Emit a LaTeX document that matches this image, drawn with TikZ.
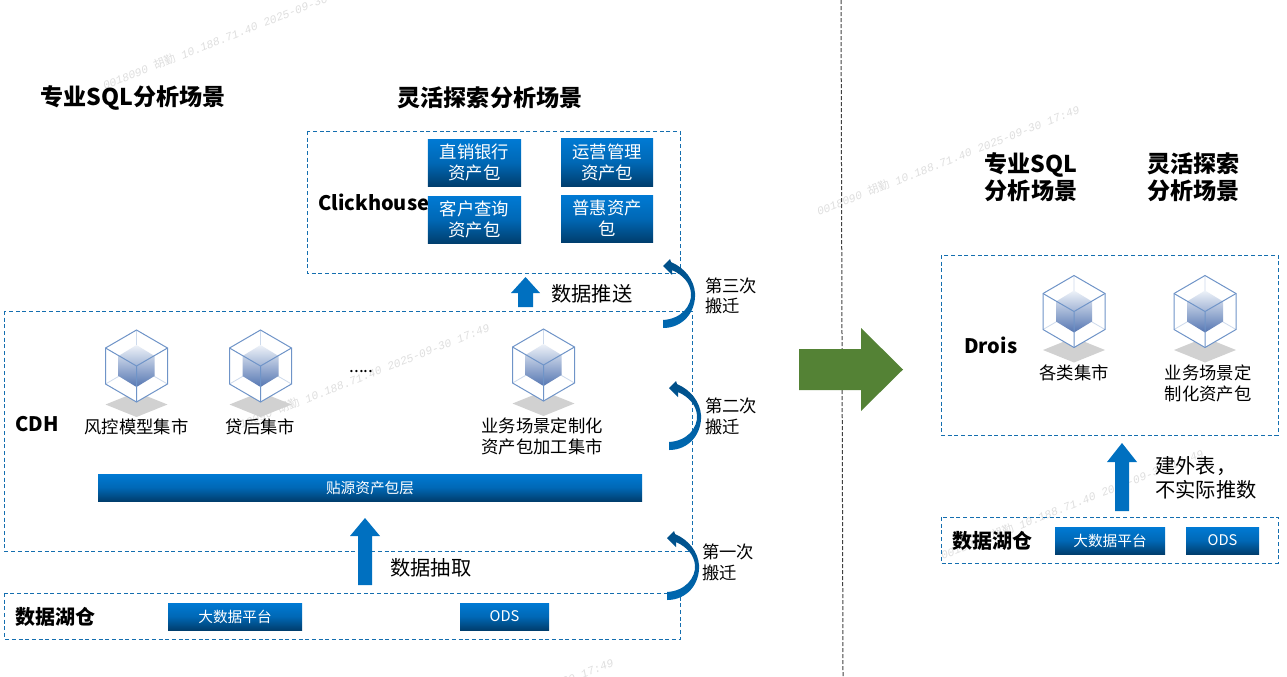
\documentclass[tikz,border=0pt]{standalone}
\usepackage{fontspec}
\setmainfont{Noto Sans CJK SC}
\newfontfamily\wmfont{Liberation Mono}
\newfontfamily\wmcjk{Noto Sans CJK SC}
\usetikzlibrary{positioning}
\definecolor{boxtop}{RGB}{0,122,212}
\definecolor{boxbot}{RGB}{0,62,110}
\definecolor{panelblue}{RGB}{20,110,175}
\definecolor{arrowblue}{RGB}{0,112,192}
\definecolor{turntop}{RGB}{0,78,135}
\definecolor{turnbot}{RGB}{0,105,178}
\definecolor{cubeline}{RGB}{111,148,200}
\definecolor{cubelow}{RGB}{85,118,178}
\definecolor{pushgreen}{RGB}{84,130,53}
\tikzset{
  panel/.style={draw=panelblue,dashed,line width=0.75pt,dash pattern=on 3pt off 2pt},
  bluebox/.style={top color=boxtop,bottom color=boxbot,middle color=boxtop!70!boxbot,text=white,inner sep=0pt,outer sep=0pt,align=center,font=\fontsize{13pt}{15.75pt}\selectfont},
  smallbox/.style={bluebox,font=\fontsize{11pt}{13pt}\selectfont},
  bigtitle/.style={inner sep=0pt,align=center,font=\fontsize{17.3pt}{20.2pt}\selectfont\bfseries},
  sysname/.style={inner sep=0pt,anchor=west,font=\fontsize{15pt}{18pt}\selectfont\bfseries},
  plainlabel/.style={inner sep=0pt,align=center,font=\fontsize{13pt}{15.75pt}\selectfont},
  steplabel/.style={inner sep=0pt,anchor=west,align=left,font=\fontsize{13pt}{15.5pt}\selectfont},
  flowlabel/.style={inner sep=0pt,anchor=west,align=left,font=\fontsize{15.2pt}{18pt}\selectfont},
  watermark/.style={inner sep=0pt,anchor=west,rotate=21.5,text=black!13,font=\fontsize{8.5pt}{10pt}\selectfont\wmfont\itshape},
  upblock/.style={fill=arrowblue,draw=none},
  pics/datacube/.style={code={
    \fill [black!18] (-31,38.5) -- (0,26) -- (31,38.5) -- (0,51) -- cycle ;
    \fill [white] (0,-36) -- (31,-18) -- (31,18) -- (0,36) -- (-31,18) -- (-31,-18) -- cycle ;
    \draw [cubeline!35,line width=0.6pt] (0,-36) -- (0,0) (-31,18) -- (0,0) -- (31,18) ;
    \shade [top color=cubeline!12,bottom color=cubelow] (0,-21) -- (18,-10) -- (18,10) -- (0,21) -- (-18,10) -- (-18,-10) -- cycle ;
    \draw [cubeline,line width=0.75pt] (0,-36) -- (31,-18) -- (31,18) -- (0,36) -- (-31,18) -- (-31,-18) -- cycle ;
    \draw [cubeline,line width=0.75pt] (-31,-18) -- (0,0) -- (31,-18) (0,0) -- (0,36) ;
  }},
  pics/turnarrow/.style={code={
    \shade [top color=turntop,bottom color=turnbot] (0,62) .. controls (20,62) and (33,46) .. (32,27) .. controls (31,14) and (22,2) .. (8,-4) -- (7,-7) -- (0,0) -- (9,9) -- (9,4) .. controls (20,9) and (27,17) .. (28,27) .. controls (29,40) and (18,53) .. (0,54) -- cycle ;
  }}
}
\newcommand{\pushwm}[1]{\node [watermark] at (#1) {0018090 {\wmcjk 胡勤} 10.188.71.40 2025-09-30 17:49};}

\begin{document}
\begin{tikzpicture}[x=0.75pt,y=0.75pt,yscale=-1,xscale=1]
\useasboundingbox (0,0) rectangle (1287,676);
\begin{scope}
\clip (0,0) rectangle (1287,676);

% Watermarks
\pushwm{103,86}
\pushwm{227,430}
\pushwm{351,765}
\pushwm{817,212}
\pushwm{941,556}

% Divider
\draw [black!75,dashed,line width=0.75pt,dash pattern=on 3pt off 1.5pt] (841,0) -- (843,676) ;

% Panels
\draw [panel] (307,131) rectangle (680,273) ;
\draw [panel] (4.5,311) rectangle (692,551) ;
\draw [panel] (4.5,593) rectangle (680,639) ;
\draw [panel] (941,255) rectangle (1278,435) ;
\draw [panel] (941,517) rectangle (1278,563) ;

% Block arrows
\fill [upblock] (525.5,277) -- (540,293) -- (533,293) -- (533,307) -- (518,307) -- (518,293) -- (511,293) -- cycle ;
\fill [upblock] (365,518) -- (380,536) -- (372,536) -- (372,585) -- (358,585) -- (358,536) -- (350,536) -- cycle ;
\fill [upblock] (1122,443) -- (1137,462) -- (1129,462) -- (1129,511) -- (1115,511) -- (1115,462) -- (1107,462) -- cycle ;
\fill [pushgreen] (799,349) -- (861,349) -- (861,328) -- (903,369.5) -- (861,411) -- (861,390) -- (799,390) -- cycle ;

% Migration arrows
\pic [transform shape] at (663,266) {turnarrow};
\pic [transform shape] at (669,388) {turnarrow};
\pic [transform shape] at (667,538) {turnarrow};

% Cubes
\pic [transform shape] at (136.5,366) {datacube};
\pic [transform shape] at (260.5,366) {datacube};
\pic [transform shape] at (543.5,365) {datacube};
\pic [transform shape] at (1074,311.5) {datacube};
\pic [transform shape] at (1205,311.5) {datacube};

% Text Node
\node [bigtitle] (sqlTitle) at (133,98) {专业SQL分析场景};
\node [bigtitle] (flexTitle) at (490,98) {灵活探索分析场景};
\node [bigtitle] (sqlTitleR) at (1031,177.5) {专业SQL\\分析场景};
\node [bigtitle] (flexTitleR) at (1193.5,177.5) {灵活探索\\分析场景};

% Text Node
\node [sysname] (clickhouse) at (318,202) {Clickhouse};
\node [sysname] (cdh) at (15,424) {CDH};
\node [sysname] (lakeL) at (15,616.5) {数据湖仓};
\node [sysname] (drois) at (964,345) {Drois};
\node [sysname] (lakeR) at (952,540.5) {数据湖仓};

% Asset packs
\node [bluebox,minimum width=70pt,minimum height=35.25pt] (packDirect) at (474.5,162.5) {直销银行\\资产包};
\node [bluebox,minimum width=69pt,minimum height=36pt] (packOps) at (607,162) {运营管理\\资产包};
\node [bluebox,minimum width=70pt,minimum height=35.25pt] (packQuery) at (474.5,219.5) {客户查询\\资产包};
\node [bluebox,minimum width=69pt,minimum height=35.25pt] (packPuhui) at (607,218.5) {普惠资产\\包};

% Source bars
\node [smallbox,minimum width=408pt,minimum height=20.25pt] (srcLayer) at (370,487.5) {贴源资产包层};
\node [smallbox,minimum width=100.5pt,minimum height=20.25pt] (bigdataL) at (235,616.5) {大数据平台};
\node [smallbox,minimum width=66.75pt,minimum height=20.25pt] (odsL) at (504.5,616.5) {ODS};
\node [smallbox,minimum width=82.5pt,minimum height=20.25pt] (bigdataR) at (1110,540.5) {大数据平台};
\node [smallbox,minimum width=54.75pt,minimum height=20.25pt] (odsR) at (1222.5,540.5) {ODS};

% Text Node
\node [plainlabel] (martRisk) at (136.5,426.5) {风控模型集市};
\node [plainlabel] (martLoan) at (260.5,426.5) {贷后集市};
\node [plainlabel] (martDots) at (361.5,372) {.....};
\node [plainlabel] (martBiz) at (542,436) {业务场景定制化\\资产包加工集市};
\node [plainlabel] (martAll) at (1074,372.5) {各类集市};
\node [plainlabel] (martBizR) at (1208,383) {业务场景定\\制化资产包};

% Text Node
\node [flowlabel] (pushLbl) at (551,294) {数据推送};
\node [flowlabel] (pullLbl) at (390,568) {数据抽取};
\node [flowlabel] (extLbl) at (1155,478) {建外表，\\不实际推数};

% Text Node
\node [steplabel] (stepThree) at (705,296) {第三次\\搬迁};
\node [steplabel] (stepTwo) at (705,416.5) {第二次\\搬迁};
\node [steplabel] (stepOne) at (702,562.5) {第一次\\搬迁};
\end{scope}
\end{tikzpicture}
\end{document}
